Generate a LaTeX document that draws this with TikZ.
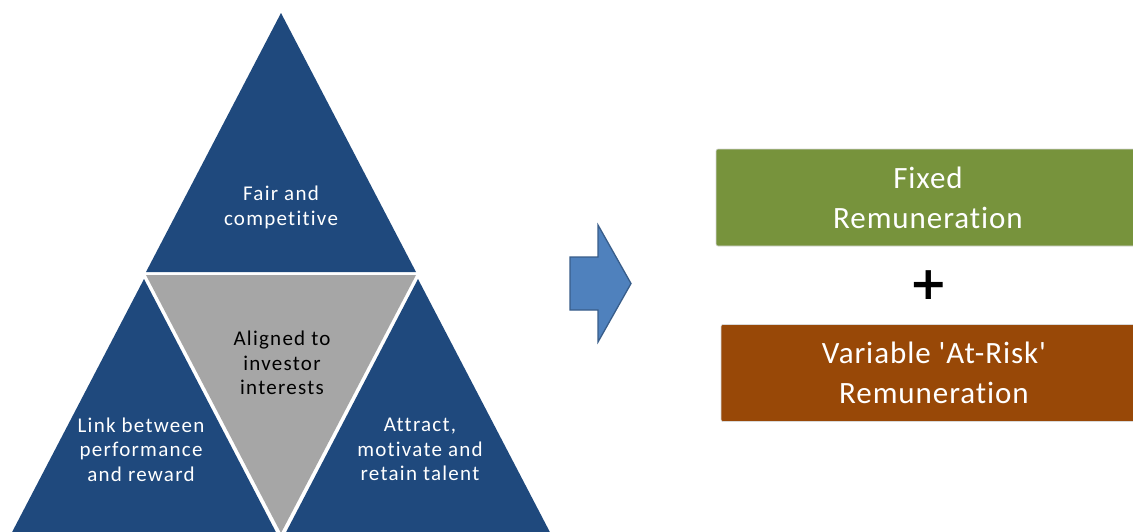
\documentclass[tikz,border=0pt]{standalone}
\usepackage{fontspec}
\setmainfont{Carlito}
\newfontfamily\plusfont{DejaVu Sans}
\newfontfamily\widefont[LetterSpace=6,Ligatures=CommonOff]{Carlito}
\newfontfamily\boxfont[LetterSpace=3,Ligatures=CommonOff]{Carlito}
\definecolor{navy}{RGB}{31,73,125}
\definecolor{midgray}{RGB}{166,166,166}
\definecolor{olive}{RGB}{119,147,60}
\definecolor{rust}{RGB}{152,72,7}
\definecolor{arrowfill}{RGB}{79,129,189}
\definecolor{arrowedge}{RGB}{56,93,138}
\begin{document}
\begin{tikzpicture}[x=1pt,y=-1pt,
  trilabel/.style={align=center,text=white,inner sep=0pt,font=\widefont\fontsize{21}{24.5}\selectfont},
  boxnode/.style={rectangle,rounded corners=2pt,draw=white!85!black,line width=0.6pt,minimum height=97pt,inner sep=0pt,align=center,text=white,font=\boxfont\fontsize{31}{40}\selectfont}]
\clip (0,0) rectangle (1133,531);
\fill[white] (0,0) rectangle (1133,531);
% triangles
\fill[navy] (281,13) -- (416,272) -- (146,272) -- cycle;
\fill[midgray] (146,275) -- (416,275) -- (281,533) -- cycle;
\fill[navy] (144,279) -- (279,538) -- (9,538) -- cycle;
\fill[navy] (418,279) -- (553,538) -- (283,538) -- cycle;
% triangle labels
\node[trilabel] (fair) at (281,207.5) {Fair and\\competitive};
\node[trilabel,text=black] (aligned) at (282,363) {Aligned to\\investor\\interests};
\node[trilabel] (link) at (141,449.5) {Link between\\performance\\and reward};
\node[trilabel] (attract) at (420,449.5) {Attract,\\motivate and\\retain talent};
% block arrow
\filldraw[fill=arrowfill,draw=arrowedge,line width=1.3pt,line join=miter]
  (570,257) -- (598,257) -- (598,225) -- (631,283.5) -- (598,342) -- (598,310) -- (570,310) -- cycle;
% boxes
\node[boxnode,fill=olive,minimum width=424pt] (fixed) at (928,197.5) {Fixed\\Remuneration};
\node[font=\plusfont\bfseries\fontsize{46}{46}\selectfont,inner sep=0pt] (plus) at (929,285) {+};
\node[boxnode,fill=rust,minimum width=426pt] (variable) at (934,373) {Variable \symbol{39}At-Risk\symbol{39}\\Remuneration};
\end{tikzpicture}
\end{document}
